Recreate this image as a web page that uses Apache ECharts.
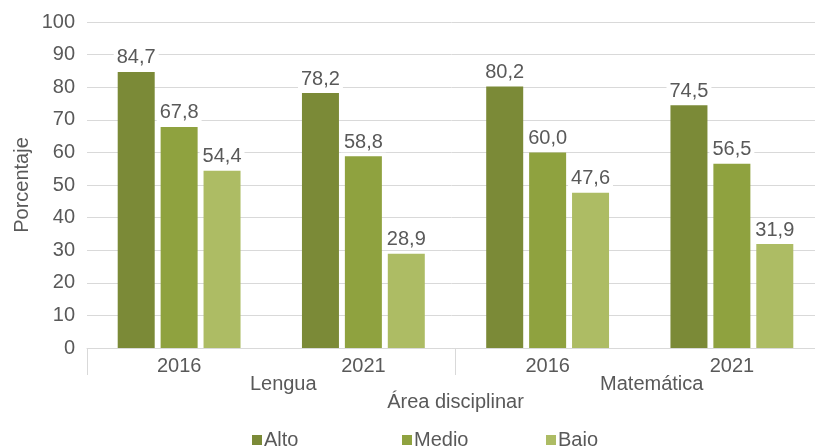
<!DOCTYPE html>
<html>
<head>
<meta charset="utf-8">
<script src="https://cdn.jsdelivr.net/npm/echarts@6/dist/echarts.min.js"></script>
<style>html,body{margin:0;padding:0;background:#fff}#c{width:815px;height:446px}</style>
</head>
<body>
<div id="c"></div>
<script>
var years = ['2016', '2021', '2016', '2021'];
var areas = ['Lengua', 'Matemática'];
var seriesNames = ['Alto', 'Medio', 'Bajo'];
var alto = [84.7, 78.2, 80.2, 74.5];
var medio = [67.8, 58.8, 60.0, 56.5];
var bajo = [54.4, 28.9, 47.6, 31.9];
var yTicks = [0, 10, 20, 30, 40, 50, 60, 70, 80, 90, 100];

var colors = ['#7b8a37', '#8fa23f', '#adbc64'];
var txt = '#595959';
var font = 'Liberation Sans, Arial, sans-serif';
var fs = 20;

var chart = echarts.init(document.getElementById('c'));
function mkSeries(name, data, i) {
  return {
    name: name, type: 'bar', data: data, xAxisIndex: 0,
    barWidth: 37, barGap: '16%',
    itemStyle: { color: colors[i] },
    label: {
      show: true, position: 'top', distance: 4,
      formatter: function (p) { return p.value.toFixed(1).replace('.', ','); },
      color: txt, fontFamily: font, fontSize: fs,
      backgroundColor: '#fff', padding: [1, 3, 0, 3]
    }
  };
}
function mkLegend(name, left) {
  return {
    data: [name], left: left, top: 425, icon: 'rect',
    itemWidth: 10, itemHeight: 10, itemGap: 0,
    textStyle: { color: txt, fontFamily: font, fontSize: fs, padding: [0, 0, 0, -3] }
  };
}
chart.setOption({
  animation: false,
  color: colors,
  grid: { left: 87, width: 737, top: 22, height: 326, containLabel: false, outerBoundsMode: 'none' },
  legend: [mkLegend('Alto', 247), mkLegend('Medio', 397), mkLegend('Bajo', 541)],
  xAxis: [
    {
      type: 'category', data: years, position: 'bottom',
      axisLine: { show: true, lineStyle: { color: '#d9d9d9', width: 1 } },
      axisTick: { show: false },
      axisLabel: { color: txt, fontFamily: font, fontSize: fs, margin: 8 },
      name: 'Área disciplinar', nameLocation: 'middle', nameGap: 44, nameMoveOverlap: false,
      nameTextStyle: { color: txt, fontFamily: font, fontSize: fs }
    },
    {
      type: 'category', data: areas, position: 'bottom', boundaryGap: true,
      axisLine: { show: false },
      axisTick: { show: true, length: 27, lineStyle: { color: '#d9d9d9', width: 1 } },
      axisLabel: { color: txt, fontFamily: font, fontSize: fs, margin: 26, padding: [0, 0, 0, 24] }
    }
  ],
  yAxis: {
    type: 'value', min: yTicks[0], max: yTicks[yTicks.length - 1], interval: 10,
    axisLine: { show: false }, axisTick: { show: false },
    axisLabel: { color: txt, fontFamily: font, fontSize: fs, margin: 12 },
    splitLine: { lineStyle: { color: '#d9d9d9', width: 1 } },
    name: 'Porcentaje', nameLocation: 'middle', nameRotate: 90, nameGap: 55, nameMoveOverlap: false,
    nameTextStyle: { color: txt, fontFamily: font, fontSize: fs }
  },
  series: [mkSeries(seriesNames[0], alto, 0), mkSeries(seriesNames[1], medio, 1), mkSeries(seriesNames[2], bajo, 2)]
});
</script>
</body>
</html>
